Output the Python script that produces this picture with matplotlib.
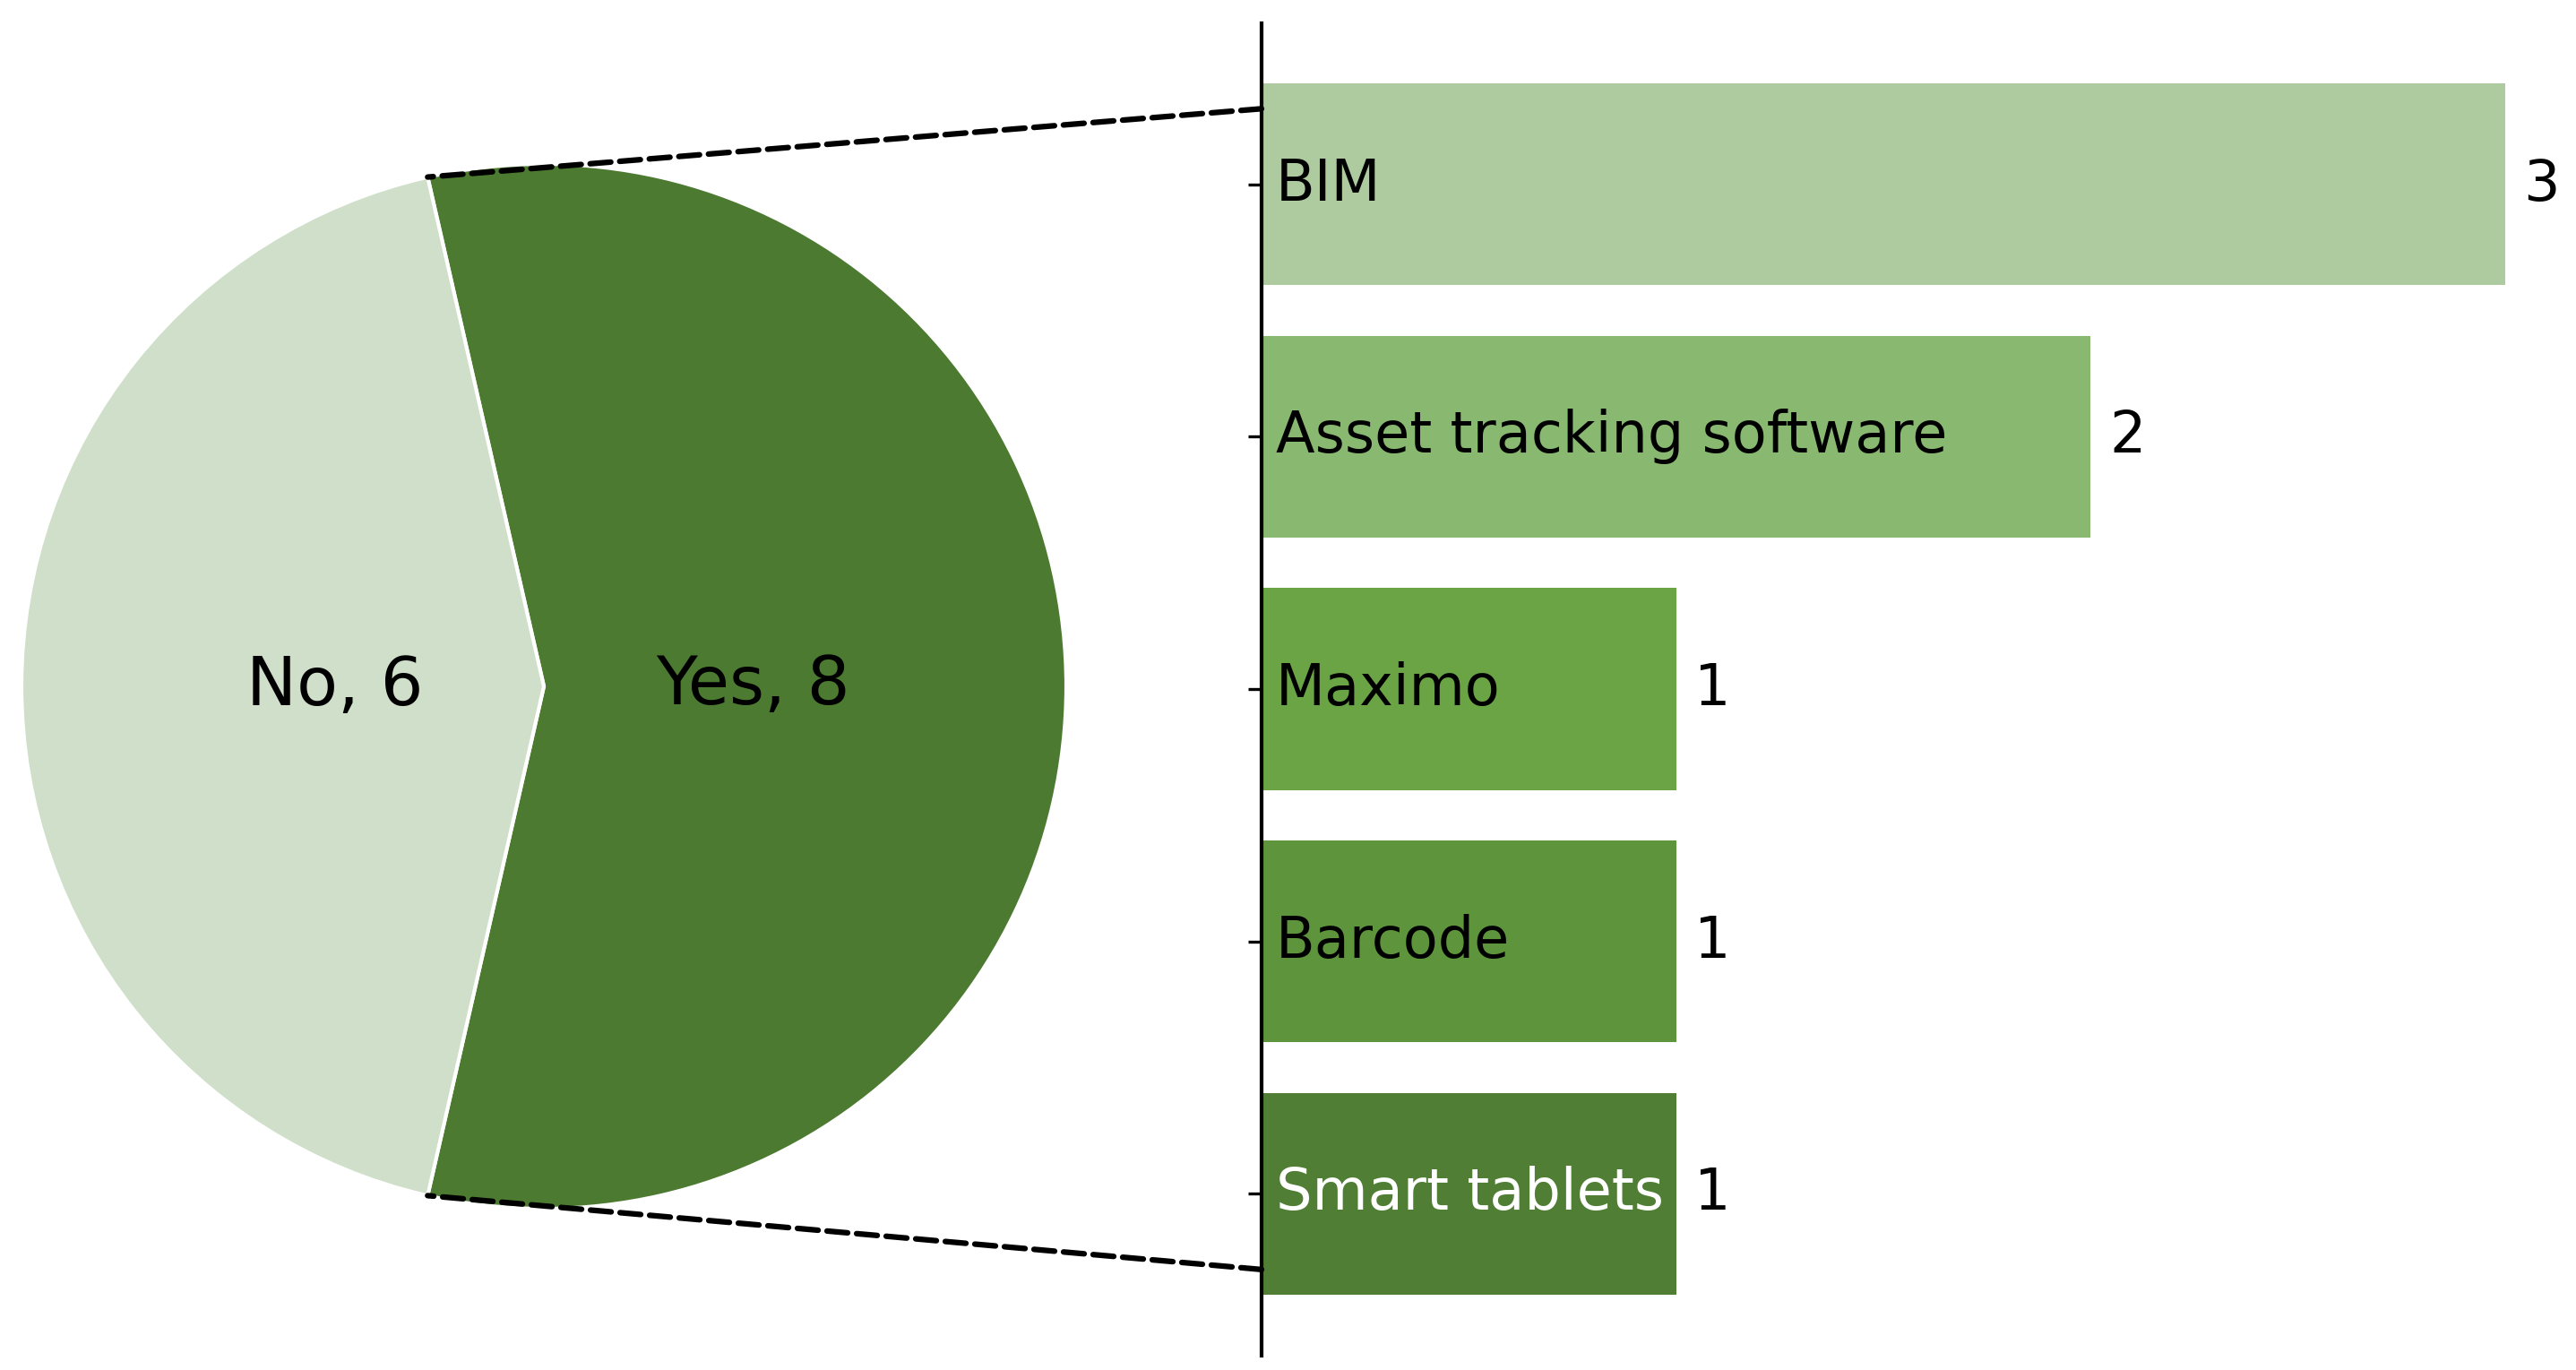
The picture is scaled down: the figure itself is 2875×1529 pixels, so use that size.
import numpy as np
import matplotlib
matplotlib.use("Agg")
import matplotlib.pyplot as plt
from matplotlib.patches import ConnectionPatch

# pie data
pie_labels = ["Yes", "No"]
pie_values = [8, 6]
pie_colors = ["#4c7a31", "#cfdfc9"]

# bar data (top to bottom)
tools = ["BIM", "Asset tracking software", "Maximo", "Barcode", "Smart tablets"]
tool_counts = [3, 2, 1, 1, 1]
bar_colors = ["#aecb9f", "#89b870", "#6aa444", "#5e943c", "#4f7e34"]
label_colors = ["black", "black", "black", "black", "white"]

W, H = 2875, 1529
dpi = 300
fig = plt.figure(figsize=(W / dpi, H / dpi), dpi=dpi)

# pie axes: centre (607, 766) px, radius ~583 px
cx, cy, r = 607, 766, 583
ax1 = fig.add_axes([(cx - r) / W, (H - cy - r) / H, 2 * r / W, 2 * r / H])
ax2 = fig.add_axes([1408 / W, (H - 1512.6) / H, 1457 / W, 1487 / H])

total = sum(pie_values)
yes_angle = 360 * pie_values[0] / total
start = -yes_angle / 2

def fmt(pct):
    v = int(round(pct * total / 100))
    return f"{pie_labels[pie_values.index(v)]}, {v}"

wedges, texts, autotexts = ax1.pie(
    pie_values, colors=pie_colors, startangle=start, autopct=fmt,
    pctdistance=0.4, wedgeprops=dict(edgecolor="white", linewidth=1.0),
    textprops=dict(fontsize=18, color="black"))
ax1.set_xlim(-1, 1)
ax1.set_ylim(-1, 1)
ax1.set_aspect("equal")
ax1.axis("off")

# bars
y = np.arange(len(tools))
bars = ax2.barh(y, tool_counts, height=0.8, color=bar_colors)
ax2.invert_yaxis()
ax2.set_xlim(0, 3.15)
ax2.set_yticks(y)
ax2.set_yticklabels([])
ax2.set_xticks([])
for side in ["top", "right", "bottom"]:
    ax2.spines[side].set_visible(False)
ax2.spines["left"].set_linewidth(1.0)

for yi, name, c in zip(y, tools, label_colors):
    ax2.text(0.035, yi, name, ha="left", va="center", fontsize=15.3, color=c)
ax2.bar_label(bars, labels=[str(v) for v in tool_counts], padding=5, fontsize=15.3)

# connection lines from the Yes wedge edges to the bar axis
theta1 = np.deg2rad(wedges[0].theta1)
theta2 = np.deg2rad(wedges[0].theta2)
for theta, yb in [(theta2, -0.3), (theta1, 4.3)]:
    con = ConnectionPatch(xyA=(0, yb), coordsA=ax2.transData,
                          xyB=(np.cos(theta), np.sin(theta)), coordsB=ax1.transData,
                          color="black", linestyle="--", linewidth=1.5)
    fig.add_artist(con)

fig.savefig("out.png", dpi=dpi)
